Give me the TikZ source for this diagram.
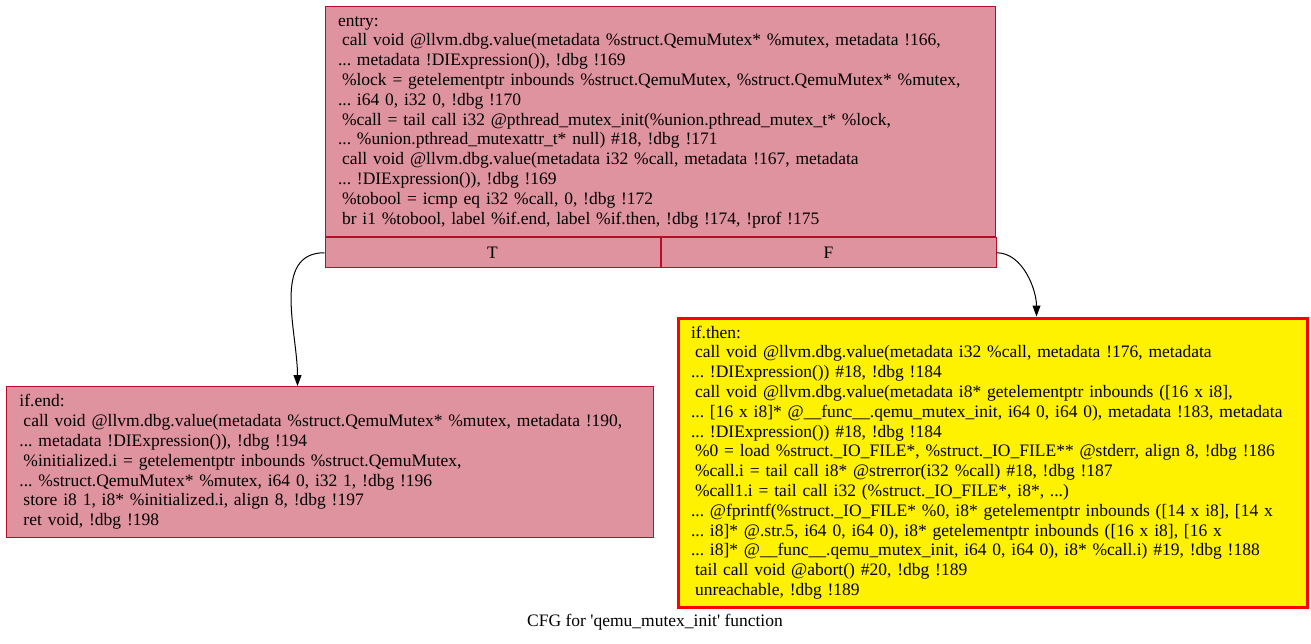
\documentclass[tikz,border=0pt]{standalone}
\usepackage{fontspec}
\setmainfont{Liberation Serif}
\usepackage{xcolor}
\usepackage{tikz}
\usetikzlibrary{arrows.meta}
\usetikzlibrary{positioning, calc}
\definecolor{blockred}{RGB}{183,13,40}
\definecolor{blockpink}{RGB}{223,147,158}
\newcommand\blockfont{\fontsize{17.5}{19.8}\selectfont\frenchspacing}
\newcommand\ind{\hspace*{4pt}}
\tikzset{
  blockbox/.style={draw=blockred, fill=blockpink, line width=1pt, anchor=north west,
    align=left, inner xsep=13pt, inner ysep=0pt, font=\blockfont},
  hotbox/.style={blockbox, draw=red, fill=yellow, line width=3pt},
  portbox/.style={draw=blockred, fill=blockpink, line width=1pt, anchor=north west,
    minimum width=335pt, minimum height=29.5pt, inner sep=0pt, font=\blockfont},
  cfgedge/.style={arrows = {-Triangle[length=11pt, width=8pt]}, line width=1pt},
}

\begin{document}
\begin{tikzpicture}[x=1pt, y=-1pt]
\useasboundingbox (0,0) rectangle (1311,644);
% entry block with its T/F ports
\node [blockbox, text width=644pt, minimum height=230pt] (entry) at (324.5,6.5) {entry:\\
\ind call void @llvm.dbg.value(metadata \%struct.QemuMutex* \%mutex, metadata !166,\\
... metadata !DIExpression()), !dbg !169\\
\ind\%lock = getelementptr inbounds \%struct.QemuMutex, \%struct.QemuMutex* \%mutex,\\
... i64 0, i32 0, !dbg !170\\
\ind\%call = tail call i32 @pthread\_mutex\_init(\%union.pthread\_mutex\_t* \%lock,\\
... \%union.pthread\_mutexattr\_t* null) \#18, !dbg !171\\
\ind call void @llvm.dbg.value(metadata i32 \%call, metadata !167, metadata\\
... !DIExpression()), !dbg !169\\
\ind\%tobool = icmp eq i32 \%call, 0, !dbg !172\\
\ind br i1 \%tobool, label \%if.end, label \%if.then, !dbg !174, !prof !175};
\node [portbox] (tport) at (entry.south west) {T};
\node [portbox, anchor=north west] (fport) at (tport.north east) {F};
% successors
\node [blockbox, text width=621pt, minimum height=151pt] (ifend) at (6,386) {if.end:\\
\ind call void @llvm.dbg.value(metadata \%struct.QemuMutex* \%mutex, metadata !190,\\
... metadata !DIExpression()), !dbg !194\\
\ind\%initialized.i = getelementptr inbounds \%struct.QemuMutex,\\
... \%struct.QemuMutex* \%mutex, i64 0, i32 1, !dbg !196\\
\ind store i8 1, i8* \%initialized.i, align 8, !dbg !197\\
\ind ret void, !dbg !198};
\node [hotbox, text width=603pt, minimum height=289pt] (ifthen) at (676.5,316.5) {if.then:\\
\ind call void @llvm.dbg.value(metadata i32 \%call, metadata !176, metadata\\
... !DIExpression()) \#18, !dbg !184\\
\ind call void @llvm.dbg.value(metadata i8* getelementptr inbounds ([16 x i8],\\
... [16 x i8]* @\_\_func\_\_.qemu\_mutex\_init, i64 0, i64 0), metadata !183, metadata\\
... !DIExpression()) \#18, !dbg !184\\
\ind\%0 = load \%struct.\_IO\_FILE*, \%struct.\_IO\_FILE** @stderr, align 8, !dbg !186\\
\ind\%call.i = tail call i8* @strerror(i32 \%call) \#18, !dbg !187\\
\ind\%call1.i = tail call i32 (\%struct.\_IO\_FILE*, i8*, ...)\\
... @fprintf(\%struct.\_IO\_FILE* \%0, i8* getelementptr inbounds ([14 x i8], [14 x\\
... i8]* @.str.5, i64 0, i64 0), i8* getelementptr inbounds ([16 x i8], [16 x\\
... i8]* @\_\_func\_\_.qemu\_mutex\_init, i64 0, i64 0), i8* \%call.i) \#19, !dbg !188\\
\ind tail call void @abort() \#20, !dbg !189\\
\ind unreachable, !dbg !189};
\coordinate (endin) at ([xshift=-32.5pt]ifend.north);
\coordinate (thenin) at ([xshift=44pt]ifthen.north);
\draw [cfgedge] (tport.west) to [out=180, in=90, looseness=1] (endin);
\draw [cfgedge] (fport.east) to [out=0, in=90, looseness=0.9] (thenin);
\node [font=\blockfont] (caption) at (655,622) {CFG for \textquotesingle qemu\_mutex\_init\textquotesingle{} function};
\end{tikzpicture}
\end{document}
